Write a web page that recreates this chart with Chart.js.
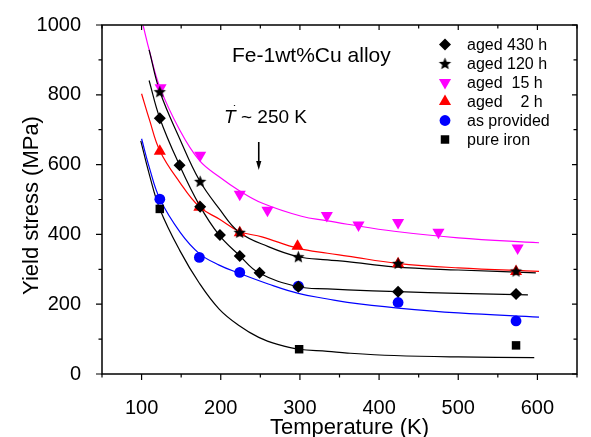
<!DOCTYPE html>
<html>
<head>
<meta charset="utf-8">
<script src="https://cdn.jsdelivr.net/npm/chart.js@4.4.1/dist/chart.umd.min.js"></script>
<style>
  html, body { margin: 0; padding: 0; background: #fff; }
</style>
</head>
<body>
<canvas id="yield-chart" width="591" height="437"></canvas>
<script>
/* -------- Messwerte (Symbole) -------- */
const t430 = [123, 148, 174, 199, 224, 249, 298, 424, 573];
const s430 = [733, 598, 479, 398, 338, 290, 250, 236, 229];
const t120 = [123, 174, 224, 298, 424, 573];
const s120 = [809, 552, 406, 336, 317, 295];
const t15 = [124, 174, 224, 259, 334, 374, 424, 475, 575];
const s15 = [820, 627, 515, 469, 454, 427, 434, 406, 361];
const t2 = [123, 173, 224, 297, 424, 573];
const s2 = [638, 478, 405, 366, 316, 294];
const tAs = [123, 173, 224, 298, 424, 573];
const sAs = [501, 334, 291, 252, 205, 152];
const tFe = [123, 299, 573];
const sFe = [473, 71, 82];

/* -------- Fitkurven -------- */
const fit430T = [109.5, 123, 148, 173, 198, 223, 248, 298, 335, 360, 424, 500, 588];
const fit430S = [841, 733, 598, 484, 398, 341, 290, 250, 244, 241, 236, 231, 227];
const fit120T = [109.5, 123, 148, 173, 198, 223, 260, 298, 335, 360, 419, 500, 598];
const fit120S = [929, 810, 675, 555, 474, 407, 365, 336, 327, 322, 307, 298, 290];
const fit15T = [102, 110, 123, 148, 173, 198, 223, 252, 302, 335, 360, 419, 500, 602];
const fit15S = [998, 925, 822, 700, 612, 565, 526, 490, 452, 439, 429, 409, 390, 376];
const fit2T = [100, 110, 123, 148, 173, 198, 223, 252, 298, 335, 360, 423, 500, 602];
const fit2S = [803, 728, 640, 550, 479, 444, 409, 393, 360, 346, 338, 317, 304, 294];
const fitAsT = [100, 110, 123, 149, 173, 198, 223, 260, 298, 335, 360, 424, 500, 602];
const fitAsS = [674, 590, 502, 405, 345, 312, 289, 258, 231, 215, 205, 189, 175, 163];
const fitFeT = [99, 110, 123, 148, 173, 198, 223, 248, 273, 298, 335, 360, 419, 500, 596];
const fitFeS = [668, 570, 473, 355, 260, 186, 139, 105, 84, 71, 65, 60, 53, 49, 47];

/* -------- Achsen / Beschriftung -------- */
const xTickVals = [50, 100, 150, 200, 250, 300, 350, 400, 450, 500, 550, 600, 650];
const yTickVals = [0, 100, 200, 300, 400, 500, 600, 700, 800, 900, 1000];
const legendLabels = ["aged 430 h", "aged 120 h", "aged  15 h", "aged    2 h", "as provided", "pure iron"];
const alloyLabel = "Fe-1wt%Cu alloy";
const arrowT = 248;

const FONT = "'Liberation Sans', Arial, sans-serif";
Chart.defaults.font.family = FONT;
Chart.defaults.color = "#000";

function pts(xs, ys) {
  return xs.map((x, i) => ({ x, y: ys[i] }));
}

// gefüllter Stern als Punkt-Stil
function makeStar(r, color) {
  const c = document.createElement("canvas");
  const s = Math.ceil(r * 2) + 2;
  c.width = s; c.height = s;
  const g = c.getContext("2d");
  g.fillStyle = color;
  g.beginPath();
  for (let i = 0; i < 10; i++) {
    const rad = i % 2 ? r * 0.44 : r;
    const a = -Math.PI / 2 + i * Math.PI / 5;
    g.lineTo(s / 2 + rad * Math.cos(a), s / 2 + 0.6 + rad * Math.sin(a));
  }
  g.closePath();
  g.fill();
  return c;
}
const starImg = makeStar(6.5, "#000");

/* -------- Serien -------- */
const series = [
  { label: legendLabels[0], t: t430, s: s430, ft: fit430T, fs: fit430S, color: "#000000", style: "rectRot", r: 6, rot: 0 },
  { label: legendLabels[1], t: t120, s: s120, ft: fit120T, fs: fit120S, color: "#000000", style: starImg, r: 6, rot: 0 },
  { label: legendLabels[2], t: t15, s: s15, ft: fit15T, fs: fit15S, color: "#ff00ff", style: "triangle", r: 7, rot: 180 },
  { label: legendLabels[3], t: t2, s: s2, ft: fit2T, fs: fit2S, color: "#ff0000", style: "triangle", r: 7, rot: 0 },
  { label: legendLabels[4], t: tAs, s: sAs, ft: fitAsT, fs: fitAsS, color: "#0000ff", style: "circle", r: 5.4, rot: 0 },
  { label: legendLabels[5], t: tFe, s: sFe, ft: fitFeT, fs: fitFeS, color: "#000000", style: "rect", r: 6, rot: 0 }
];

const datasets = [];
series.forEach(sr => {
  datasets.push({
    label: sr.label + " fit",
    data: pts(sr.ft, sr.fs),
    showLine: true,
    borderColor: sr.color,
    borderWidth: 1.2,
    pointRadius: 0,
    tension: 0.4,
    order: 1
  });
  datasets.push({
    label: sr.label,
    data: pts(sr.t, sr.s),
    showLine: false,
    backgroundColor: sr.color,
    borderColor: sr.color,
    borderWidth: 0,
    pointStyle: sr.style,
    pointRadius: sr.r,
    pointRotation: sr.rot,
    order: 0
  });
});

/* -------- Legende zeichnen -------- */
function drawMarker(ctx, sr, x, y) {
  ctx.save();
  ctx.fillStyle = sr.color;
  ctx.translate(x, y);
  ctx.rotate(sr.rot * Math.PI / 180);
  const r = sr.r;
  ctx.beginPath();
  if (sr.style === "rectRot") {
    ctx.moveTo(0, -r); ctx.lineTo(r, 0); ctx.lineTo(0, r); ctx.lineTo(-r, 0);
  } else if (sr.style === "triangle") {
    for (let i = 0; i < 3; i++) {
      const a = -Math.PI / 2 + i * 2 * Math.PI / 3;
      ctx.lineTo(r * Math.cos(a), r * Math.sin(a));
    }
  } else if (sr.style === "circle") {
    ctx.arc(0, 0, r, 0, Math.PI * 2);
  } else if (sr.style === "rect") {
    const h = r * Math.SQRT1_2;
    ctx.rect(-h, -h, 2 * h, 2 * h);
  } else {
    ctx.drawImage(sr.style, -sr.style.width / 2, -sr.style.height / 2);
  }
  ctx.closePath();
  ctx.fill();
  ctx.restore();
}

const framePlugin = {
  id: "frame",
  afterDraw(chart) {
    const { ctx, chartArea: a, scales } = chart;
    const xs = scales.x, ys = scales.y;
    ctx.save();
    ctx.strokeStyle = "#000";
    ctx.lineWidth = 1.5;
    ctx.strokeRect(a.left, a.top, a.right - a.left, a.bottom - a.top);

    // Ticks
    ctx.lineWidth = 1.2;
    ctx.beginPath();
    xTickVals.forEach(v => {
      const px = xs.getPixelForValue(v);
      const major = v % 100 === 0;
      ctx.moveTo(px, a.bottom); ctx.lineTo(px, a.bottom + (major ? 6 : 3.5));
      ctx.moveTo(px, a.top); ctx.lineTo(px, a.top + (major ? 5 : 3.5));
    });
    yTickVals.forEach(v => {
      const py = ys.getPixelForValue(v);
      const major = v % 200 === 0;
      ctx.moveTo(a.left, py); ctx.lineTo(a.left - (major ? 6 : 3.5), py);
      ctx.moveTo(a.right, py); ctx.lineTo(a.right - (major ? 5 : 3.5), py);
    });
    ctx.stroke();

    // Achsentitel
    ctx.fillStyle = "#000";
    ctx.font = "22px " + FONT;
    ctx.textAlign = "center";
    ctx.textBaseline = "alphabetic";
    ctx.fillText("Temperature (K)", (a.left + a.right) / 2 + 10, 434);
    ctx.save();
    ctx.translate(38, (a.top + a.bottom) / 2 + 6);
    ctx.rotate(-Math.PI / 2);
    ctx.fillText("Yield stress (MPa)", 0, 0);
    ctx.restore();

    // Beschriftungen im Diagramm
    ctx.textAlign = "left";
    ctx.font = "21px " + FONT;
    ctx.fillText(alloyLabel, 232, 62);

    ctx.font = "italic 19px " + FONT;
    ctx.fillText("T", 224, 123);
    ctx.font = "bold 9px " + FONT;
    ctx.fillText("\u02D9", 233, 112);
    ctx.font = "19px " + FONT;
    ctx.fillText("~ 250 K", 241, 123);

    // Pfeil
    const ax = xs.getPixelForValue(arrowT);
    ctx.lineWidth = 1.6;
    ctx.beginPath();
    ctx.moveTo(ax, 142); ctx.lineTo(ax, 163);
    ctx.stroke();
    ctx.beginPath();
    ctx.moveTo(ax - 2.6, 161); ctx.lineTo(ax + 2.6, 161); ctx.lineTo(ax, 170);
    ctx.closePath();
    ctx.fill();

    // Legende
    ctx.font = "16px " + FONT;
    ctx.textBaseline = "middle";
    series.forEach((sr, i) => {
      const y = 44.5 + i * 19;
      drawMarker(ctx, sr, 445, y);
      ctx.fillStyle = "#000";
      ctx.fillText(sr.label, 467, y + 1);
    });
    ctx.restore();
  }
};

new Chart(document.getElementById("yield-chart").getContext("2d"), {
  type: "scatter",
  data: { datasets },
  options: {
    responsive: false,
    animation: false,
    layout: { padding: { left: 0, right: 9, top: 24, bottom: 0 } },
    plugins: { legend: { display: false }, tooltip: { enabled: false } },
    scales: {
      x: {
        type: "linear", min: 50, max: 650,
        afterBuildTicks: s => { s.ticks = xTickVals.map(v => ({ value: v })); },
        afterFit: s => { s.height = 63; },
        grid: { display: false },
        border: { display: false },
        ticks: {
          autoSkip: false, maxRotation: 0, padding: 14,
          font: { size: 20 },
          callback: v => (v % 100 === 0 ? v : "")
        }
      },
      y: {
        type: "linear", min: 0, max: 1000,
        afterBuildTicks: s => { s.ticks = yTickVals.map(v => ({ value: v })); },
        afterFit: s => { s.width = 102; },
        grid: { display: false },
        border: { display: false },
        ticks: {
          autoSkip: false, padding: 13,
          font: { size: 20 },
          callback: v => (v % 200 === 0 ? v : "")
        }
      }
    }
  },
  plugins: [framePlugin]
});
</script>
</body>
</html>
